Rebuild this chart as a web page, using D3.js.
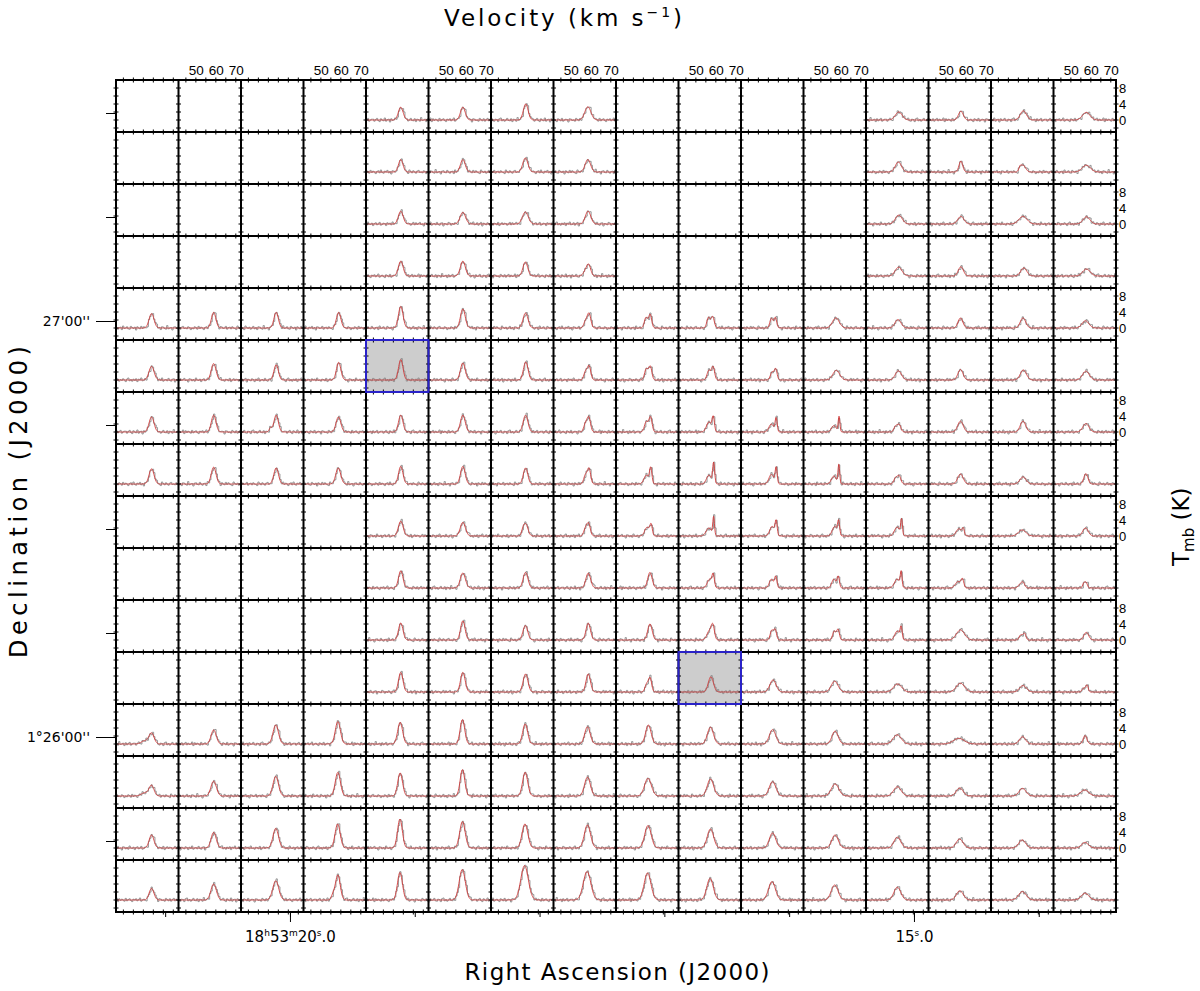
<!DOCTYPE html>
<html><head><meta charset="utf-8">
<script src="https://cdn.jsdelivr.net/npm/d3@7"></script>
<style>
body{margin:0;background:#fff}
svg{display:block}
</style>
</head><body>
<svg id="chart" width="1200" height="991" font-family="DejaVu Sans, sans-serif"></svg>
<script>
const n = null;
// ---- axis data ----
const velocityDomain = [41.3, 72.6];      // km/s inside each panel
const tmbDomain = [-3, 10];               // K inside each panel
const velocityLabels = [50, 60, 70];
const velocityMinorTicks = [45, 50, 55, 60, 65, 70];
const tmbLabels = [0, 4, 8];
const tmbMinorTicks = [-2, 0, 2, 4, 6, 8];
const raDomain = [21.394, 13.381];        // seconds of 18h53m
const raTicks = [21, 20, 19, 18, 17, 16, 15, 14];
const raLabeled = [20, 15];
const decDomain = [94.76, -25.24];        // arcsec from 1°26'00''
const decTicks = [90, 75, 60, 45, 30, 15, 0, -15];
const decLabeled = [60, 0];
const highlightPanels = [[5, 4], [11, 9]];

// ---- main Gaussian component: peak (K) ----
const ampGrid = [
 [n,n,n,n,3.2,3.2,4.0,3.3,n,n,n,n,2.0,2.2,2.3,1.9],
 [n,n,n,n,3.1,3.1,3.5,3.1,n,n,n,n,2.5,2.7,1.6,1.7],
 [n,n,n,n,3.2,2.9,3.0,3.2,n,n,n,n,2.2,1.9,1.9,1.8],
 [n,n,n,n,3.7,3.7,3.5,2.8,n,n,n,n,2.2,2.3,2.0,1.75],
 [3.6,3.9,3.9,3.9,5.4,4.75,3.75,3.6,3.4,2.8,2.6,2.5,2.1,2.5,2.5,1.8],
 [3.4,4.1,3.8,4.4,5.1,4.25,4.5,3.5,3.3,3.3,2.7,2.4,2.3,2.6,2.5,2.2],
 [3.75,4.2,4.2,3.75,4.2,4.2,4.2,3.6,3.7,3.6,3.4,3.8,1.8,2.7,2.7,2.1],
 [3.8,4.2,4.0,4.0,4.4,4.4,4.0,3.8,3.9,5.2,4.0,4.8,2.0,2.5,1.75,2.6],
 [n,n,n,n,3.7,3.4,3.0,3.0,2.6,4.5,3.5,3.5,3.8,1.6,1.5,2.0],
 [n,n,n,n,4.3,3.75,3.9,3.7,3.9,3.0,2.8,2.8,3.6,2.0,1.4,1.3],
 [n,n,n,n,4.25,4.8,3.6,4.2,4.0,3.4,2.6,2.6,3.0,2.5,1.6,1.9],
 [n,n,n,n,4.9,4.9,4.5,4.5,3.4,3.8,3.0,2.7,2.0,2.2,1.6,1.6],
 [2.7,3.5,4.75,5.6,5.4,6.1,5.0,4.3,4.75,4.2,3.6,3.2,2.3,1.4,1.8,2.1],
 [2.6,3.7,4.9,5.9,5.75,6.6,5.9,4.7,4.4,4.25,3.6,3.0,2.3,2.0,1.9,1.5],
 [3.25,3.9,4.9,6.0,7.25,6.6,6.0,5.75,5.6,4.75,3.75,3.25,2.7,2.25,2.0,1.4],
 [2.9,4.0,4.8,6.25,6.9,7.6,8.6,7.1,6.75,5.4,4.6,3.75,3.2,2.3,2.1,1.7]
];
// ---- main component: centre velocity (km/s) ----
const velGrid = [
 [n,n,n,n,58.7,58.5,58.7,58.5,n,n,n,n,57.7,57.5,57.5,57.7],
 [n,n,n,n,58.7,58.5,58.5,58.5,n,n,n,n,57.5,57.5,57.5,57.7],
 [n,n,n,n,58.7,58.5,58.5,58.6,n,n,n,n,57.7,57.5,57.3,57.8],
 [n,n,n,n,58.7,58.5,58.5,58.9,n,n,n,n,57.6,57.5,57.7,57.8],
 [59.1,58.9,58.9,58.9,58.7,58.5,58.6,59.1,58.4,58.4,58.5,57.5,57.3,57.3,57.3,57.3],
 [59.1,58.9,58.9,58.9,58.7,58.5,58.7,59.1,58.5,58.6,58.7,57.7,57.5,57.3,57.5,57.5],
 [59.1,58.9,58.9,58.8,58.7,58.5,58.6,59.0,58.6,58.7,58.9,59.1,57.9,57.3,57.3,57.5],
 [59.1,58.9,58.9,58.7,58.7,58.5,58.6,59.1,58.7,58.9,58.9,59.0,57.9,57.3,57.3,57.5],
 [n,n,n,n,58.7,58.5,58.7,58.9,58.9,58.9,58.9,58.9,59.1,58.7,56.9,57.3],
 [n,n,n,n,58.7,58.5,58.6,58.7,58.3,58.7,58.7,58.7,58.9,58.3,57.3,57.7],
 [n,n,n,n,58.7,58.5,58.5,58.7,58.3,58.5,58.4,58.6,58.9,57.3,58.1,57.7],
 [n,n,n,n,58.7,58.5,58.6,58.7,58.4,57.5,57.3,56.9,57.1,57.3,57.3,58.1],
 [59.1,58.9,58.7,58.5,58.4,58.3,58.4,58.3,57.5,57.3,57.1,57.1,56.9,56.5,57.1,57.1],
 [59.1,58.9,58.7,58.5,58.4,58.3,58.4,58.3,57.3,57.3,57.1,57.1,57.0,56.9,57.1,56.9],
 [59.1,58.9,58.7,58.4,58.3,58.3,58.3,58.3,57.3,57.3,57.1,57.1,57.0,56.9,56.9,57.1],
 [59.1,58.9,58.7,58.5,58.3,58.2,58.1,58.1,57.1,57.1,56.8,56.9,57.0,57.0,57.0,57.1]
];
// ---- main component: FWHM (km/s) ----
const fwhmGrid = [
 [n,n,n,n,2.8,2.8,2.8,3.6,n,n,n,n,4.0,2.8,3.6,4.4],
 [n,n,n,n,2.6,2.8,3.0,3.2,n,n,n,n,3.6,2.2,2.8,4.8],
 [n,n,n,n,2.8,3.2,3.4,3.2,n,n,n,n,4.0,3.6,4.8,4.0],
 [n,n,n,n,2.8,2.9,2.8,2.4,n,n,n,n,4.0,3.0,3.6,4.4],
 [2.9,2.6,2.6,2.6,2.7,2.8,2.9,2.1,1.8,1.9,1.6,4.0,3.6,2.8,3.2,4.0],
 [3.0,2.8,2.6,2.6,2.6,2.8,2.7,2.0,1.8,1.8,1.6,4.0,3.6,3.0,3.6,4.0],
 [2.9,2.7,2.6,2.8,2.6,2.8,2.8,2.0,1.8,1.4,1.2,1.0,2.0,3.2,3.2,3.6],
 [2.9,2.8,2.7,2.9,2.6,2.7,2.6,1.9,1.4,1.2,1.2,1.0,2.0,3.2,3.6,2.4],
 [n,n,n,n,2.8,3.0,2.6,2.0,1.4,1.0,1.2,1.2,1.0,1.3,4.4,3.2],
 [n,n,n,n,2.6,3.0,2.8,2.8,2.6,1.4,1.4,1.4,1.0,1.6,2.0,1.4],
 [n,n,n,n,2.6,2.6,2.8,2.6,2.6,1.9,1.6,1.6,1.2,4.8,1.6,2.8],
 [n,n,n,n,2.6,2.7,2.8,2.6,1.8,3.0,3.6,4.0,4.8,4.8,4.0,1.4],
 [3.0,3.0,3.2,3.0,2.9,2.7,2.9,3.2,3.2,3.5,3.7,3.6,4.8,6.4,3.6,2.2],
 [2.9,3.2,3.2,3.0,2.8,2.7,3.0,3.4,4.0,3.7,3.8,4.4,4.4,4.0,4.0,4.8],
 [2.8,3.0,3.2,3.0,2.8,3.2,3.4,3.6,3.8,3.7,3.7,3.8,4.0,4.0,4.0,4.0],
 [2.8,3.2,3.5,2.8,2.9,3.6,4.4,4.4,4.0,3.8,4.0,4.0,4.0,4.0,4.4,4.4]
];
// ---- second Gaussian components: [row, col, peak K, centre km/s, FWHM km/s] ----
const secondComponents = [
 [1,14,1.0,55.9,1.6],[3,7,1.0,57.1,2.4],
 [4,7,1.6,57.3,2.0],[4,8,2.6,56.3,1.9],[4,9,2.6,56.3,1.9],[4,10,2.4,56.5,1.8],
 [5,7,2.0,57.3,1.9],[5,8,2.8,56.5,2.1],[5,9,2.4,56.5,2.1],[5,10,2.0,56.9,2.0],
 [6,2,1.0,56.1,1.6],[6,7,2.0,57.3,2.0],[6,8,2.6,56.5,2.2],[6,9,2.5,56.5,2.8],[6,10,2.0,56.5,2.8],[6,11,1.6,56.5,2.8],[6,12,1.4,56.1,2.0],
 [7,7,2.2,57.3,2.0],[7,8,2.2,56.5,2.8],[7,9,2.2,56.5,2.8],[7,10,2.4,56.5,2.8],[7,11,2.0,56.5,2.8],[7,12,1.5,56.1,2.0],
 [8,6,1.0,57.3,1.6],[8,7,1.8,57.3,2.0],[8,8,2.2,56.9,2.8],[8,9,2.0,56.5,3.2],[8,10,2.4,56.9,2.8],[8,11,2.4,56.9,2.8],[8,12,2.2,56.9,3.2],[8,13,1.8,56.5,3.2],
 [9,9,2.2,56.9,2.8],[9,10,2.2,56.5,2.4],[9,11,2.2,56.5,2.4],[9,12,2.2,56.9,3.2],[9,13,1.6,56.1,3.2],[9,14,0.8,55.7,2.0],[9,15,1.2,56.5,1.4],
 [10,9,2.2,56.7,2.8],[10,10,2.4,56.7,1.8],[10,11,2.2,56.7,1.9],[10,12,2.2,56.9,2.8],[10,14,1.3,56.3,2.0],
 [11,8,2.0,56.7,2.0],[11,15,1.0,56.5,2.0],
 [12,0,0.8,55.7,4.0],[13,0,0.8,55.7,4.0],[15,3,1.2,56.1,2.0]
];
// ---- baseline residual patterns (K), one per channel ----
const residualA = [0.2,-0.3,0.1,0.4,-0.1,-0.4,0.3,0.0,-0.2,0.5,-0.3,0.1,0.2,-0.5,0.3,-0.1,0.0,0.4,-0.2,-0.3,0.2,0.1,-0.4,0.3,0.5,-0.2,0.1,-0.3,0.0,0.4,-0.1,-0.2,0.3,-0.4,0.2,0.1,-0.3,0.6,-0.1,0.0,0.2,-0.4,0.3,-0.2,0.1,0.4,-0.3,0.0,0.2];
const residualB = [-0.1,0.3,-0.4,0.2,0.0,0.5,-0.2,-0.1,0.3,-0.3,0.1,0.4,-0.5,0.2,0.0,-0.2,0.3,0.1,-0.4,0.2,-0.1,0.5,-0.3,0.0,0.1,-0.2,0.4,-0.1,-0.3,0.2,0.3,-0.5,0.1,0.0,-0.2,0.4,0.2,-0.3,0.1,-0.1,0.3,0.0,-0.4,0.2,0.5,-0.2,0.1,-0.3,0.2];
const residualC = [0.3,0.0,-0.2,-0.4,0.5,0.1,-0.1,0.2,-0.3,0.0,0.4,-0.2,0.1,-0.4,0.3,0.2,-0.1,-0.3,0.6,-0.2,0.0,0.1,-0.5,0.2,0.3,-0.1,-0.2,0.4,0.0,-0.3,0.1,0.2,-0.4,0.5,-0.1,0.0,0.3,-0.2,-0.3,0.4,0.1,-0.1,0.2,-0.5,0.3,0.0,-0.2,0.4,-0.1];
const residualD = [-0.3,0.1,0.4,-0.2,0.2,-0.1,0.0,0.5,-0.4,0.3,-0.1,0.2,0.0,-0.3,0.4,-0.2,0.1,0.3,-0.1,-0.4,0.2,0.0,0.3,-0.2,0.1,0.5,-0.3,0.0,0.2,-0.1,-0.4,0.3,0.1,-0.2,0.4,-0.3,0.0,0.2,0.1,-0.5,0.3,0.2,-0.1,0.0,-0.3,0.4,0.1,-0.2,0.3];
const residualE = [0.1,0.4,-0.1,0.0,-0.5,0.3,0.2,-0.2,0.1,-0.3,0.5,0.0,-0.1,0.2,-0.4,0.1,0.3,-0.2,0.0,0.4,-0.3,-0.1,0.2,0.1,-0.4,0.3,0.0,0.2,-0.2,0.5,-0.1,0.0,-0.3,0.2,0.1,-0.2,0.4,-0.4,0.0,0.3,-0.1,0.2,0.1,-0.3,0.0,0.4,-0.2,0.3,-0.1];
const residualF = [0.0,-0.2,0.3,0.1,-0.3,0.4,-0.1,0.2,0.0,-0.4,0.1,0.3,-0.2,0.5,-0.1,-0.3,0.2,0.0,0.4,-0.2,0.1,-0.5,0.3,0.2,-0.1,0.0,0.4,-0.3,0.1,0.2,-0.2,0.3,0.0,-0.1,-0.4,0.5,0.1,-0.2,0.3,0.0,-0.3,0.2,0.4,-0.1,0.0,-0.2,0.3,0.1,-0.4];
const residualSets = [residualA, residualB, residualC, residualD, residualE, residualF];

// ---- drawing ----
const svg = d3.select("#chart");
const gridX = d3.scaleLinear().domain([0, 16]).range([116, 1116]);
const gridY = d3.scaleLinear().domain([0, 16]).range([80, 912]);
const pw = gridX(1) - gridX(0), ph = gridY(1) - gridY(0);
const vx = d3.scaleLinear().domain(velocityDomain).range([0, pw]);
const ty = d3.scaleLinear().domain(tmbDomain).range([ph, 0]);
const raScale = d3.scaleLinear().domain(raDomain).range([116, 1116]);
const decScale = d3.scaleLinear().domain(decDomain).range([80, 912]);
const smallFont = "Liberation Sans, Arial, sans-serif";
const mainFont = "DejaVu Sans, sans-serif";

const gauss = (v, a, c, w) => a * Math.exp(-4 * Math.LN2 * (v - c) * (v - c) / (w * w));
const channels = d3.range(velocityDomain[0], velocityDomain[1] + 0.001, 0.65);
const fine = d3.range(velocityDomain[0], velocityDomain[1] + 0.001, 0.2);
const isHi = (r, c) => highlightPanels.some(p => p[0] === r && p[1] === c);

const cells = [];
for (let r = 0; r < 16; r++) for (let c = 0; c < 16; c++) {
  const comps = [];
  if (ampGrid[r][c] != null) {
    comps.push([ampGrid[r][c], velGrid[r][c], fwhmGrid[r][c]]);
    secondComponents.filter(s => s[0] === r && s[1] === c).forEach(s => comps.push([s[2], s[3], s[4]]));
  }
  cells.push({ r, c, comps });
}

const lineGen = d3.line().x(d => vx(d[0])).y(d => ty(d[1]));
const stepGen = d3.line().x(d => vx(d[0])).y(d => ty(d[1])).curve(d3.curveStepAfter);

const gPanels = svg.append("g");
const pg = gPanels.selectAll("g.panel").data(cells).join("g")
  .attr("class", "panel")
  .attr("transform", d => `translate(${gridX(d.c)},${gridY(d.r)})`);

pg.append("rect").attr("width", pw).attr("height", ph)
  .attr("fill", d => isHi(d.r, d.c) ? "#cdcdcd" : "#fff");

pg.filter(d => d.comps.length).each(function(d) {
  const g = d3.select(this);
  const model = v => d3.sum(d.comps, k => gauss(v, k[0], k[1], k[2]));
  const res = residualSets[(d.r * 5 + d.c * 3) % residualSets.length];
  const shift = (d.r * 7 + d.c * 11) % res.length;
  const obs = channels.map((v, i) => [v, model(v) + res[(i + shift) % res.length]]);
  const fit = fine.map(v => [v, model(v)]);
  g.append("path").attr("d", stepGen(obs)).attr("fill", "none")
    .attr("stroke", "#8c8c8c").attr("stroke-width", 0.9);
  g.append("path").attr("d", lineGen(fit)).attr("fill", "none")
    .attr("stroke", "#d23a3a").attr("stroke-width", 0.9);
});

// grid lines
const gGrid = svg.append("g").attr("stroke", "#000").attr("stroke-width", 2);
gGrid.selectAll("line.v").data(d3.range(17)).join("line").attr("class", "v")
  .attr("x1", d => gridX(d)).attr("x2", d => gridX(d)).attr("y1", 79).attr("y2", 913);
gGrid.selectAll("line.h").data(d3.range(17)).join("line").attr("class", "h")
  .attr("y1", d => gridY(d)).attr("y2", d => gridY(d)).attr("x1", 115).attr("x2", 1117);

// minor ticks on panel borders
const gTicks = svg.append("g").attr("stroke", "#000").attr("stroke-width", 1);
const vTickData = [];
for (let k = 0; k <= 16; k++) for (let r = 0; r < 16; r++) tmbMinorTicks.forEach(t => vTickData.push([gridX(k), gridY(r) + ty(t)]));
gTicks.selectAll("line.vt").data(vTickData).join("line").attr("class", "vt")
  .attr("x1", d => d[0] - 2.5).attr("x2", d => d[0] + 2.5).attr("y1", d => d[1]).attr("y2", d => d[1]);
const hTickData = [];
for (let k = 0; k <= 16; k++) for (let c = 0; c < 16; c++) velocityMinorTicks.forEach(v => hTickData.push([gridX(c) + vx(v), gridY(k)]));
gTicks.selectAll("line.ht").data(hTickData).join("line").attr("class", "ht")
  .attr("x1", d => d[0]).attr("x2", d => d[0]).attr("y1", d => d[1] - 2.5).attr("y2", d => d[1] + 2.5);

// highlighted borders
svg.append("g").selectAll("rect").data(highlightPanels).join("rect")
  .attr("x", d => gridX(d[1])).attr("y", d => gridY(d[0]))
  .attr("width", pw).attr("height", ph)
  .attr("fill", "none").attr("stroke", "#2a22c8").attr("stroke-width", 2);

// top velocity labels
d3.range(1, 16, 2).forEach(c => {
  const a = svg.append("g").attr("transform", `translate(${gridX(c)},80)`)
    .call(d3.axisTop(vx).tickValues(velocityLabels).tickSize(0).tickPadding(5));
  a.select(".domain").remove();
  a.attr("font-family", smallFont).attr("font-size", 13.5);
  a.selectAll("text").attr("fill", "#000");
});
// right Tmb labels
d3.range(0, 16, 2).forEach(r => {
  const a = svg.append("g").attr("transform", `translate(1116,${gridY(r)})`)
    .call(d3.axisRight(ty).tickValues(tmbLabels).tickSize(0).tickPadding(3));
  a.select(".domain").remove();
  a.attr("font-family", smallFont).attr("font-size", 13);
  a.selectAll("text").attr("fill", "#000");
});

// left Dec axis
const decMinor = svg.append("g").attr("transform", "translate(116,0)")
  .call(d3.axisLeft(decScale).tickValues(decTicks).tickSize(10).tickFormat(""));
decMinor.select(".domain").remove();
const decMajor = svg.append("g").attr("transform", "translate(116,0)")
  .call(d3.axisLeft(decScale).tickValues(decLabeled).tickSize(20).tickPadding(6)
    .tickFormat(d => d === 60 ? "27'00''" : "1°26'00''"));
decMajor.select(".domain").remove();
decMajor.attr("font-family", mainFont).attr("font-size", 14);
decMajor.selectAll("text").attr("fill", "#000");

// bottom RA axis
const raMinor = svg.append("g").attr("transform", "translate(0,912)")
  .call(d3.axisBottom(raScale).tickValues(raTicks).tickSize(5).tickFormat(""));
raMinor.select(".domain").remove();
const raMajor = svg.append("g").attr("transform", "translate(0,912)")
  .call(d3.axisBottom(raScale).tickValues(raLabeled).tickSize(10).tickPadding(9).tickFormat(""));
raMajor.select(".domain").remove();
raMajor.attr("font-family", mainFont).attr("font-size", 15);
raMajor.selectAll("text").each(function(d) {
  const t = d3.select(this).attr("fill", "#000");
  const parts = d === 20
    ? [["18", 0], ["h", 1], ["53", 0], ["m", 1], ["20", 0], ["s", 1], [".0", 0]]
    : [["15", 0], ["s", 1], [".0", 0]];
  let prevSup = false;
  parts.forEach(p => {
    const sp = t.append("tspan").text(p[0]);
    if (p[1]) { sp.attr("font-size", 9).attr("dy", -6); prevSup = true; }
    else if (prevSup) { sp.attr("dy", 6); prevSup = false; }
  });
});

// titles
const vt = svg.append("text").attr("x", 563).attr("y", 26).attr("text-anchor", "middle")
  .attr("font-size", 23).attr("textLength", 238).attr("lengthAdjust", "spacing");
vt.append("tspan").text("Velocity (km s");
vt.append("tspan").text("−1").attr("font-size", 14).attr("dy", -9);
vt.append("tspan").text(")").attr("dy", 9);

svg.append("text").attr("x", 617).attr("y", 980).attr("text-anchor", "middle")
  .attr("font-size", 23).attr("textLength", 305).attr("lengthAdjust", "spacing")
  .text("Right Ascension (J2000)");

svg.append("text").attr("transform", "translate(27,502) rotate(-90)").attr("text-anchor", "middle")
  .attr("font-size", 24).attr("textLength", 312).attr("lengthAdjust", "spacing")
  .text("Declination (J2000)");

const tm = svg.append("text").attr("transform", "translate(1189,566) rotate(-90)").attr("text-anchor", "start")
  .attr("font-size", 23);
tm.append("tspan").text("T");
tm.append("tspan").text("mb").attr("font-size", 15).attr("dy", 5);
tm.append("tspan").text(" (K)").attr("dy", -5);
</script>
</body></html>
